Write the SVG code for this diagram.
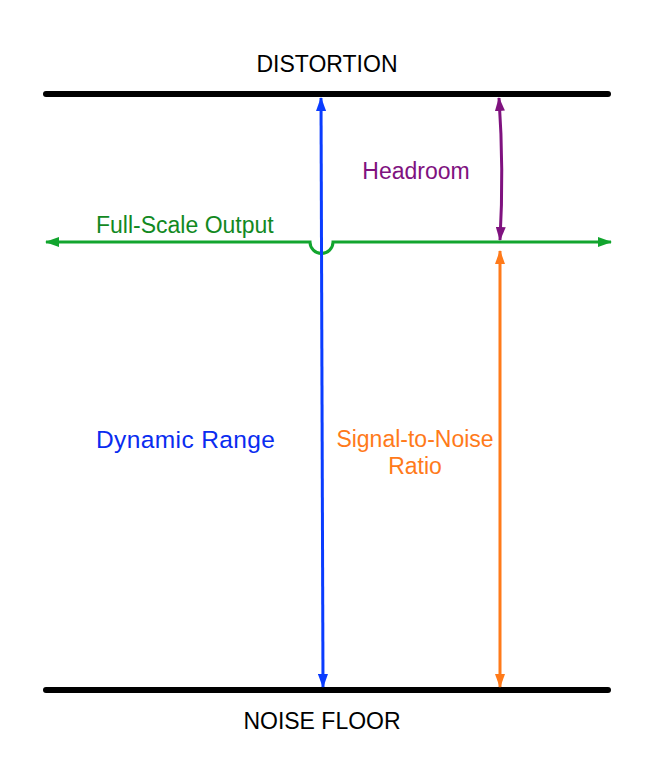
<svg xmlns="http://www.w3.org/2000/svg" width="652" height="781" viewBox="0 0 652 781">
<style>
.lbl{font-family:"Liberation Sans",Arial,sans-serif;font-size:23px}
.bar{stroke:#000;stroke-width:6;stroke-linecap:round;fill:none}
.ln{stroke-width:3;fill:none}
</style>
<defs>
<marker id="ab" viewBox="0 0 14 10" refX="13" refY="5" markerWidth="14" markerHeight="10" markerUnits="userSpaceOnUse" orient="auto-start-reverse"><path d="M0,0 L14,5 L0,10 Z" fill="#0a3cff"/></marker>
<marker id="ap" viewBox="0 0 14 10" refX="13" refY="5" markerWidth="14" markerHeight="10" markerUnits="userSpaceOnUse" orient="auto-start-reverse"><path d="M0,0 L14,5 L0,10 Z" fill="#7f127f"/></marker>
<marker id="ao" viewBox="0 0 14 10" refX="13" refY="5" markerWidth="14" markerHeight="10" markerUnits="userSpaceOnUse" orient="auto-start-reverse"><path d="M0,0 L14,5 L0,10 Z" fill="#ff7a1a"/></marker>
<marker id="ag" viewBox="0 0 14 10" refX="13" refY="5" markerWidth="14" markerHeight="10" markerUnits="userSpaceOnUse" orient="auto-start-reverse"><path d="M0,0 L14,5 L0,10 Z" fill="#12a52e"/></marker>
</defs>
<rect width="652" height="781" fill="#fff"/>
<g id="distortion">
<line class="bar" x1="46" y1="94" x2="608" y2="94"/>
<text class="lbl" x="327" y="72" text-anchor="middle" fill="#000">DISTORTION</text>
</g>
<g id="noise-floor">
<line class="bar" x1="46" y1="690" x2="608" y2="690"/>
<text class="lbl" x="322" y="729" text-anchor="middle" fill="#000">NOISE FLOOR</text>
</g>
<g id="full-scale-output">
<path class="ln" stroke="#12a52e" d="M46,242 L310,242 A11.5,11.5 0 0 0 333,242 L611,242" marker-start="url(#ag)" marker-end="url(#ag)"/>
<text class="lbl" x="96" y="233" fill="#12891f">Full-Scale Output</text>
</g>
<g id="connectors">
<line class="ln" stroke="#0a3cff" x1="321" y1="98" x2="323" y2="687" marker-start="url(#ab)" marker-end="url(#ab)"/>
<path class="ln" stroke="#7f127f" d="M499,98 Q504,170 500,240" marker-start="url(#ap)" marker-end="url(#ap)"/>
<line class="ln" stroke="#ff7a1a" x1="500" y1="251" x2="500" y2="687" marker-start="url(#ao)" marker-end="url(#ao)"/>
</g>
<g id="headroom">
<text class="lbl" x="416" y="179" text-anchor="middle" fill="#7f127f">Headroom</text>
</g>
<g id="dynamic-range">
<text class="lbl" x="96" y="448" style="font-size:24.5px" textLength="179" lengthAdjust="spacing" fill="#0a2cf0">Dynamic Range</text>
</g>
<g id="snr">
<text class="lbl" x="415" y="447" text-anchor="middle" fill="#ff7a1a">Signal-to-Noise</text>
<text class="lbl" x="415" y="474" text-anchor="middle" fill="#ff7a1a">Ratio</text>
</g>
</svg>
